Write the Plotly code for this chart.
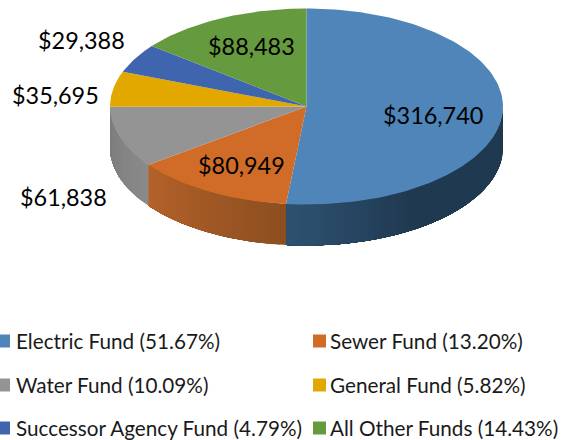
import math
import plotly.graph_objects as go

categories = ["Electric Fund", "Sewer Fund", "Water Fund", "General Fund", "Successor Agency Fund", "All Other Funds"]
values = [316740, 80949, 61838, 35695, 29388, 88483]
percent_labels = ["51.67%", "13.20%", "10.09%", "5.82%", "4.79%", "14.43%"]
value_labels = ["$316,740", "$80,949", "$61,838", "$35,695", "$29,388", "$88,483"]
colors = ["#4f85b8", "#d06c28", "#949494", "#e2a800", "#3f65ae", "#659a3e"]
# side-wall shade at start / end of clockwise sweep for slices that show a wall
wall_shades = {0: ("#1f3950", "#2f5272"), 1: ("#8c4e20", "#b5622a"), 2: ("#8a8a8a", "#7a7a7a")}

label_pos = [(432.5, 114.5), (241.5, 165), (63.5, 197), (55.5, 95), (81, 40), (251.5, 46)]
swatch_x = [3.5, 319.5, 3.5, 319.5, 3.5, 319.5]
text_x = [13.5, 327.5, 13.5, 327.5, 13.5, 327.5]
legend_y = [341, 341, 385, 385, 428, 428]

CX, CY, RX, RY, DEPTH = 306.5, 106.5, 196.5, 98, 41
total = sum(values)


def pt(a, dy=0):
    return CX + RX * math.sin(a), CY - RY * math.cos(a) + dy


def hexmix(c1, c2, t):
    a = [int(c1[i:i + 2], 16) for i in (1, 3, 5)]
    b = [int(c2[i:i + 2], 16) for i in (1, 3, 5)]
    return "rgb(%d,%d,%d)" % tuple(round(a[i] + (b[i] - a[i]) * t) for i in range(3))


fig = go.Figure()
starts = []
acc = 0
for v in values:
    starts.append(acc / total * 2 * math.pi)
    acc += v
ends = starts[1:] + [2 * math.pi]


def add_poly(xs, ys, color):
    fig.add_trace(go.Scatter(x=xs, y=ys, mode="lines", fill="toself", fillcolor=color,
                             line=dict(width=0), hoverinfo="skip", showlegend=False))


# side walls: front half of the ellipse only; each strip overlaps the rest of its slice so no seams show
for i, (c0, c1) in wall_shades.items():
    a0 = max(starts[i], math.pi / 2)
    a1 = min(ends[i], 3 * math.pi / 2)
    n = max(8, int((a1 - a0) / 0.03))
    for k in range(n):
        s = a0 + (a1 - a0) * k / n
        arc = [pt(s + (a1 - s) * j / 40) for j in range(41)]
        low = [pt(s + (a1 - s) * j / 40, DEPTH) for j in range(40, -1, -1)]
        t = (k + 0.5) / n
        if i == 0:
            t = min(1, max(0, (t - 0.6) / 0.4))
        poly = arc + low + [arc[0]]
        add_poly([p[0] for p in poly], [p[1] for p in poly], hexmix(c0, c1, t))

# top surface
for i in range(len(values)):
    n = max(4, int((ends[i] - starts[i]) / 0.02))
    arc = [pt(starts[i] + (ends[i] - starts[i]) * k / n) for k in range(n + 1)]
    xs = [CX] + [p[0] for p in arc] + [CX]
    ys = [CY] + [p[1] for p in arc] + [CY]
    add_poly(xs, ys, colors[i])

# swatches
fig.add_trace(go.Scatter(x=swatch_x, y=legend_y, mode="markers",
                         marker=dict(symbol="square", size=13, color=colors, line=dict(width=0)),
                         cliponaxis=False, hoverinfo="skip", showlegend=False))

for lab, (x, y) in zip(value_labels, label_pos):
    fig.add_annotation(x=x, y=y, text=lab, showarrow=False, xanchor="center", yanchor="middle",
                       font=dict(family="Lato", size=23.4, color="#000000"))
for cat, pct, x, y in zip(categories, percent_labels, text_x, legend_y):
    fig.add_annotation(x=x, y=y, text=f"{cat} ({pct})", showarrow=False, xanchor="left", yanchor="middle",
                       font=dict(family="Lato", size=20.7, color="#1a1a1a"))

fig.update_layout(width=561, height=440, margin=dict(l=0, r=0, t=0, b=0),
                  paper_bgcolor="white", plot_bgcolor="white", showlegend=False,
                  xaxis=dict(range=[0, 561], visible=False, fixedrange=True),
                  yaxis=dict(range=[440, 0], visible=False, fixedrange=True))
fig.write_html("out.html", config={"displayModeBar": False},
               post_script="document.body.style.margin='0';document.body.style.overflow='hidden';")
